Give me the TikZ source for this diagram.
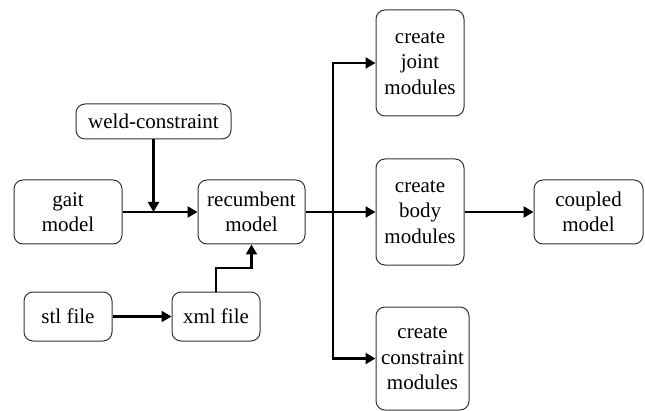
\documentclass[tikz,border=0pt]{standalone}
\usepackage{fontspec}
\setmainfont{Liberation Serif}
\usepackage{tikz}
\usetikzlibrary{arrows.meta, positioning}

\tikzset{
  block/.style={draw=black!80, line width=1pt, rounded corners=9pt, align=center,
    inner sep=0pt, font=\fontsize{21}{25.5}\selectfont},
  arr/.style={line width=2.2pt, -{Triangle[length=10pt, width=11pt]}},
  link/.style={line width=2.2pt}
}

\begin{document}
\begin{tikzpicture}[x=1pt, y=1pt]
  \useasboundingbox (0,0) rectangle (645,410);
  % Left column
  \node[block, minimum width=155pt, minimum height=35pt] (weld) at (153.5,288.5) {weld-constraint};
  \node[block, minimum width=108pt, minimum height=64pt] (gait) at (68,198) {gait\\model};
  \node[block, minimum width=107pt, minimum height=64pt] (rec) at (251.5,198) {recumbent\\model};
  \node[block, minimum width=88pt, minimum height=49pt] (stl) at (68,93.5) {stl file};
  \node[block, minimum width=88pt, minimum height=49pt] (xml) at (216,93.5) {xml file};
  % Modules
  \node[block, minimum width=88pt, minimum height=106pt] (joint) at (420,347) {create\\joint\\modules};
  \node[block, minimum width=88pt, minimum height=106pt] (body) at (420,198) {create\\body\\modules};
  \node[block, minimum width=93pt, minimum height=103pt] (cons) at (422.5,51.5) {create\\constraint\\modules};
  \node[block, minimum width=109pt, minimum height=64pt] (coupled) at (588.5,198) {coupled\\model};
  % Junctions
  \coordinate (split) at (333,198);
  \coordinate (bend) at (216,142);
  % Connectors
  \draw[arr] (gait) -- (rec);
  \draw[arr] (weld.south) -- (weld.south |- gait.east);
  \draw[arr] (stl) -- (xml);
  \draw[arr] (xml.north) -- (bend) -| (rec.south);
  \draw[link] (rec.east) -- (split);
  \draw[arr] (split) -- (body);
  \draw[arr] (split) |- (joint.west);
  \draw[arr] (split) |- (cons.west);
  \draw[arr] (body) -- (coupled);
\end{tikzpicture}
\end{document}
